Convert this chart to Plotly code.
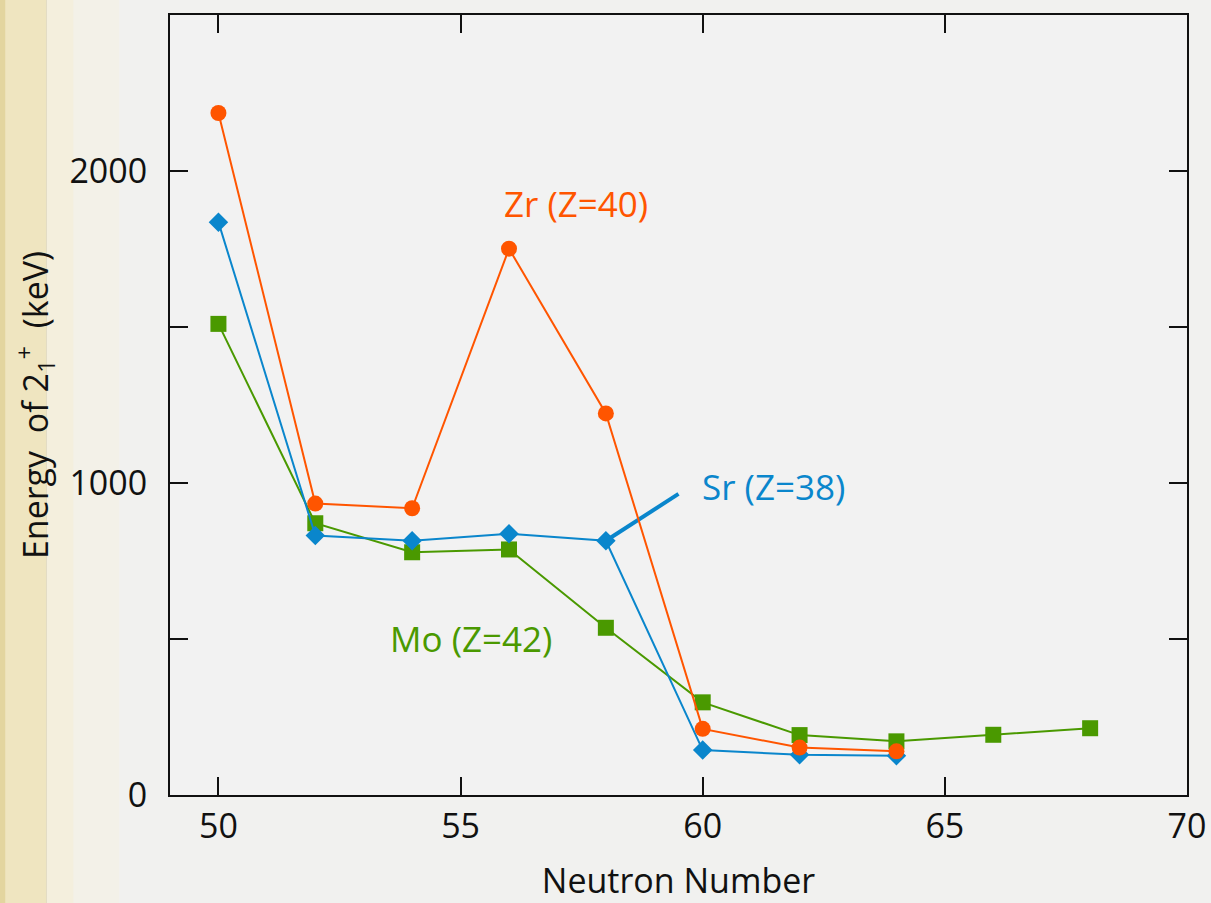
import plotly.graph_objects as go

# Neutron numbers
n_sr = [50, 52, 54, 56, 58, 60, 62, 64]
n_zr = [50, 52, 54, 56, 58, 60, 62, 64]
n_mo = [50, 52, 54, 56, 58, 60, 62, 64, 66, 68]

# Energy of first 2+ state (keV)
e_sr = [1836, 832, 815, 837, 815, 144, 129, 126]
e_zr = [2186, 934, 919, 1751, 1223, 212, 152, 140]
e_mo = [1510, 871, 778, 787, 536, 297, 192, 172, 193, 214]

# Leader line for Sr label
leader_x = [58, 59.5]
leader_y = [815, 965]

# Labels
lab_zr = dict(text="Zr (Z=40)", x=57.38, y=1897)
lab_sr = dict(text="Sr (Z=38)", x=61.46, y=990)
lab_mo = dict(text="Mo (Z=42)", x=55.22, y=503)

x_ticks = [50, 55, 60, 65, 70]
y_major = 1000
y_minor = 500

ORANGE = "#ff5500"
BLUE = "#0a86cc"
GREEN = "#4a9900"
INK = "#111111"
FONT = "Open Sans"

fig = go.Figure()

fig.add_trace(go.Scatter(x=leader_x, y=leader_y, mode="lines",
                         line=dict(color=BLUE, width=4), hoverinfo="skip",
                         showlegend=False))
fig.add_trace(go.Scatter(x=n_mo, y=e_mo, mode="lines+markers", name="Mo",
                         line=dict(color=GREEN, width=2),
                         marker=dict(symbol="square", size=16, color=GREEN)))
fig.add_trace(go.Scatter(x=n_sr, y=e_sr, mode="lines+markers", name="Sr",
                         line=dict(color=BLUE, width=2),
                         marker=dict(symbol="diamond", size=15, color=BLUE)))
fig.add_trace(go.Scatter(x=n_zr, y=e_zr, mode="lines+markers", name="Zr",
                         line=dict(color=ORANGE, width=2),
                         marker=dict(symbol="circle", size=16, color=ORANGE)))

for lab, col in [(lab_zr, ORANGE), (lab_sr, BLUE), (lab_mo, GREEN)]:
    fig.add_annotation(x=lab["x"], y=lab["y"], text=lab["text"], showarrow=False,
                       font=dict(family=FONT, size=35, color=col),
                       xanchor="center", yanchor="middle")

# Parchment-like left strip on the page background
shapes = [
    dict(type="rect", xref="paper", yref="paper", x0=-0.1672, x1=-0.05, y0=-0.14, y1=1.02,
         fillcolor="#f3f1e8", line=dict(width=0), layer="below"),
    dict(type="rect", xref="paper", yref="paper", x0=-0.1672, x1=-0.095, y0=-0.14, y1=1.02,
         fillcolor="#f4efdd", line=dict(width=0), layer="below"),
    dict(type="rect", xref="paper", yref="paper", x0=-0.1672, x1=-0.121, y0=-0.14, y1=1.02,
         fillcolor="#efe5c0", line=dict(width=0), layer="below"),
    dict(type="rect", xref="paper", yref="paper", x0=-0.1672, x1=-0.162, y0=-0.14, y1=1.02,
         fillcolor="#e3d59f", line=dict(width=0), layer="below"),
    dict(type="line", xref="paper", yref="paper", x0=-0.1215, x1=-0.1215, y0=-0.14, y1=1.02,
         line=dict(color="#e2dcc4", width=1), layer="below"),
]

tick_style = dict(ticks="inside", ticklen=18, tickwidth=2, tickcolor=INK)

fig.update_layout(
    width=1211, height=903,
    margin=dict(l=170, r=24, t=15, b=108, autoexpand=False),
    paper_bgcolor="#f1f1ef",
    plot_bgcolor="#f2f2f2",
    showlegend=False,
    shapes=shapes,
    font=dict(family=FONT, size=34, color=INK),
    xaxis=dict(range=[49, 70], tickvals=x_ticks, **tick_style, showline=True, linewidth=2,
               linecolor=INK, mirror="ticks", showgrid=False, zeroline=False,
               automargin=False,
               tickfont=dict(family=FONT, size=34, color=INK),
               title=dict(text="Neutron Number", standoff=30,
                          font=dict(family=FONT, size=34, color=INK))),
    yaxis=dict(range=[0, 2500], tick0=0, dtick=y_major, **tick_style, showline=True,
               linewidth=2, linecolor=INK, mirror="ticks", showgrid=False, zeroline=False,
               automargin=False,
               minor=dict(dtick=y_minor, **tick_style, showgrid=False),
               tickfont=dict(family=FONT, size=34, color=INK),
               ticklabelstandoff=14,
               title=dict(text="Energy  of 2<sub>1</sub><sup>+</sup>  (keV)", standoff=11,
                          font=dict(family=FONT, size=34, color=INK))),
)

fig.write_html("out.html")
